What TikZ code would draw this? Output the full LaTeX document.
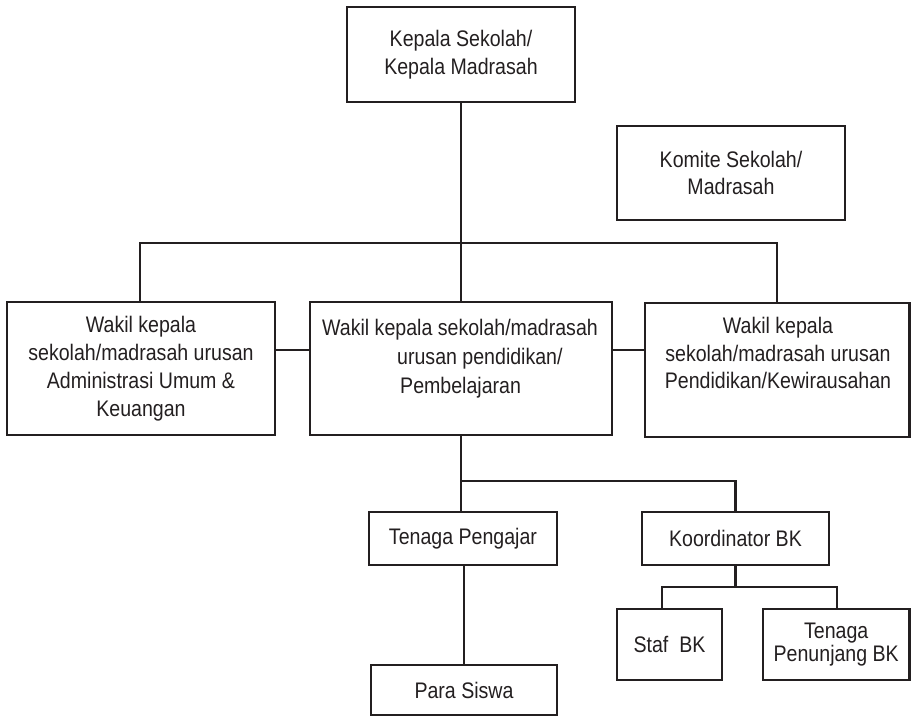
\documentclass[tikz,border=0pt]{standalone}
\usepackage{fontspec}
\setmainfont{Liberation Sans}[FakeStretch=0.87]
\definecolor{ink}{HTML}{231F20}
\begin{document}
\begin{tikzpicture}[x=1pt,y=-1pt,
  font=\fontsize{22.5}{27.5}\selectfont,
  every node/.style={text=ink},
  box/.style={draw=ink, line width=2.3pt, inner sep=0pt, align=center},
  txt/.style={inner sep=0pt},
  conn/.style={draw=ink, line width=2.3pt}]
\useasboundingbox (0,0) rectangle (911,716);

% boxes
\node[box, minimum width=228pt, minimum height=95pt] (kepala) at (461,54.5) {Kepala Sekolah/\\Kepala Madrasah};
\node[box, minimum width=228pt, minimum height=94pt] (komite) at (731,173) {Komite Sekolah/\\Madrasah};
\node[box, minimum width=268pt, minimum height=133pt, font=\fontsize{22.5}{28}\selectfont] (left) at (141,368.5) {Wakil kepala\\sekolah/madrasah urusan\\Administrasi Umum \&\\Keuangan};
\node[box, minimum width=302pt, minimum height=133pt] (mid) at (461,368.5) {};
\node[box, minimum width=264.5pt, minimum height=134pt] (right) at (777.25,370) {};
\node[box, minimum width=188pt, minimum height=53pt] (tp) at (463,538.5) {Tenaga Pengajar};
\node[box, minimum width=187pt, minimum height=53pt] (koord) at (735.5,538.5) {Koordinator BK};
\node[box, minimum width=105pt, minimum height=71pt] (staf) at (669.5,644.5) {Staf\ \ BK};
\node[box, minimum width=146.5pt, minimum height=71pt, font=\fontsize{22.5}{23.5}\selectfont] (pen) at (836.25,644.5) {Tenaga\\Penunjang BK};
\node[box, minimum width=186pt, minimum height=50pt] (siswa) at (464,690) {Para Siswa};

% texts of the middle and right boxes
\node[txt, anchor=base west] (midA) at (322,335) {Wakil kepala sekolah/madrasah};
\node[txt, anchor=base west] (midB) at (397,364) {urusan pendidikan/};
\node[txt, anchor=base west] (midC) at (400,393) {Pembelajaran};
\node[txt, anchor=north, align=center] (rightT) at (778,317) {Wakil kepala\\sekolah/madrasah urusan\\Pendidikan/Kewirausahan};

% connectors
\coordinate (top) at (461,243);
\coordinate (topL) at (140,243);
\coordinate (topR) at (777,243);
\draw[conn] (kepala.south) -- (top);
\draw[conn] (left.north -| topL) -- (topL) -- (topR) -- (right.north -| topR);
\draw[conn] (top) -- (mid.north);
\draw[conn] ([yshift=18.5pt]left.east) -- ([yshift=18.5pt]mid.west);
\draw[conn] ([yshift=18.5pt]mid.east) -- ([yshift=18.5pt]mid.east -| right.west);

\coordinate (br) at (461,481);
\draw[conn] (mid.south) -- (mid.south |- tp.north);
\draw[conn] (br) -| (koord.north);
\draw[conn] (tp.south -| siswa.north) -- (siswa.north);

\coordinate (bk) at (735.5,587);
\draw[conn] (koord.south) -- (bk);
\draw[conn] ([xshift=-7.5pt]staf.north) |- (bk) -| ([xshift=0.75pt]pen.north);
\end{tikzpicture}
\end{document}
